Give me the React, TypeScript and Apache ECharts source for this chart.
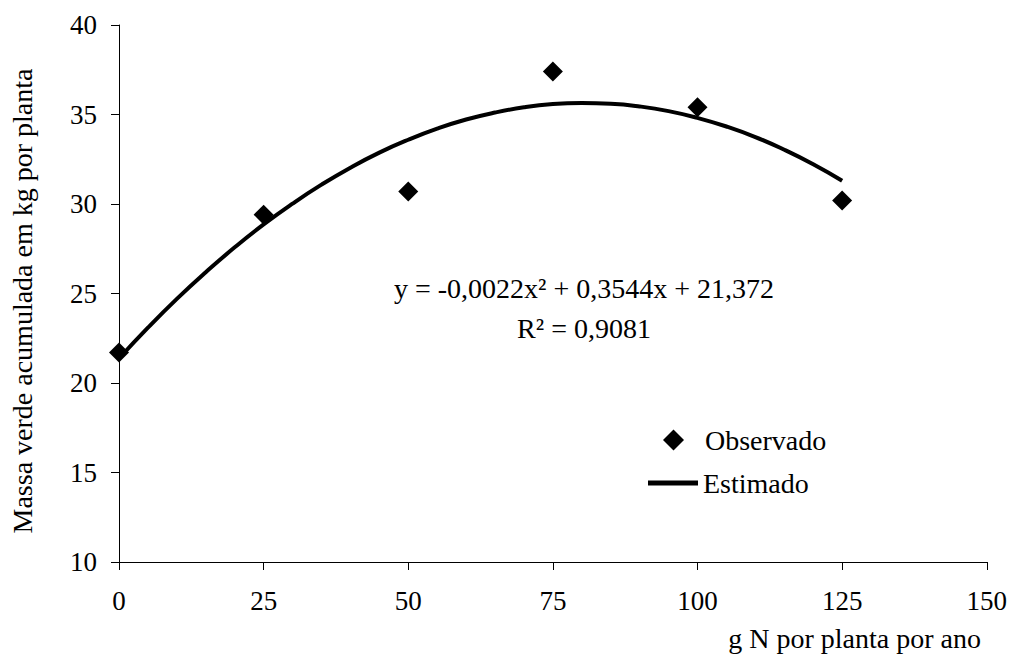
import React, { useEffect, useRef } from "react";
import * as echarts from "echarts";

// Observed data (g N por planta por ano -> massa verde, kg por planta)
const doses = [0, 25, 50, 75, 100, 125];
const observed = [21.7, 29.4, 30.7, 37.4, 35.4, 30.2];

// Fitted curve (Estimado), every 5 g N
const curveX = [0, 5, 10, 15, 20, 25, 30, 35, 40, 45, 50, 55, 60, 65, 70, 75, 80, 85, 90, 95, 100, 105, 110, 115, 120, 125];
const curveY = [21.37, 23.09, 24.7, 26.19, 27.58, 28.86, 30.02, 31.08, 32.03, 32.87, 33.59, 34.21, 34.72, 35.11, 35.4, 35.58, 35.64, 35.6, 35.45, 35.19, 34.81, 34.33, 33.74, 33.03, 32.22, 31.3];

const equationText = "y = -0,0022x² + 0,3544x + 21,372";
const r2Text = "R² = 0,9081";
const yAxisTitle = "Massa verde acumulada em kg por planta";
const xAxisTitle = "g N por planta por ano";
const legendObserved = "Observado";
const legendEstimated = "Estimado";

const FONT = "Liberation Serif";

function buildOption() {
  const scatterData = doses.map((d, i) => [d, observed[i]]);
  const lineData = curveX.map((d, i) => [d, curveY[i]]);
  return {
    animation: false,
    backgroundColor: "#ffffff",
    grid: { left: 119, right: 23, top: 25, bottom: 94 },
    xAxis: {
      type: "value",
      min: 0,
      max: 150,
      interval: 25,
      axisLine: { show: true, onZero: false, lineStyle: { color: "#000", width: 1 } },
      axisTick: { show: true, length: 8, inside: false, lineStyle: { color: "#000" } },
      splitLine: { show: false },
      axisLabel: { fontFamily: FONT, fontSize: 27, color: "#000", margin: 25 },
    },
    yAxis: {
      type: "value",
      min: 10,
      max: 40,
      interval: 5,
      axisLine: { show: true, onZero: false, lineStyle: { color: "#000", width: 1 } },
      axisTick: { show: true, length: 8, inside: false, lineStyle: { color: "#000" } },
      splitLine: { show: false },
      axisLabel: { fontFamily: FONT, fontSize: 27, color: "#000", margin: 22 },
    },
    legend: [
      {
        data: [{ name: legendObserved, icon: "diamond" }],
        left: 658,
        top: 421,
        orient: "vertical",
        itemWidth: 21,
        itemHeight: 21,
        itemStyle: { color: "#000", opacity: 1 },
        textStyle: { fontFamily: FONT, fontSize: 28, color: "#000", padding: [0, 0, 0, 16] },
        selectedMode: false,
      },
      {
        data: [{ name: legendEstimated, icon: "rect" }],
        left: 643,
        top: 464,
        orient: "vertical",
        itemWidth: 50,
        itemHeight: 5,
        itemStyle: { color: "#000", opacity: 1 },
        textStyle: { fontFamily: FONT, fontSize: 28, color: "#000" },
        selectedMode: false,
      },
    ],
    series: [
      {
        name: legendEstimated,
        type: "line",
        data: lineData,
        smooth: true,
        symbol: "none",
        showSymbol: false,
        lineStyle: { color: "#000", width: 4 },
        itemStyle: { color: "#000" },
        z: 2,
      },
      {
        name: legendObserved,
        type: "scatter",
        data: scatterData,
        symbol: "diamond",
        symbolSize: 20,
        itemStyle: { color: "#000", opacity: 1 },
        z: 3,
      },
    ],
    graphic: [
      {
        type: "text",
        x: 584,
        y: 288,
        style: { text: equationText, fontFamily: FONT, fontSize: 28, fill: "#000", align: "center", verticalAlign: "middle" },
      },
      {
        type: "text",
        x: 584,
        y: 328,
        style: { text: r2Text, fontFamily: FONT, fontSize: 28, fill: "#000", align: "center", verticalAlign: "middle" },
      },
      {
        type: "text",
        x: 981,
        y: 638,
        style: { text: xAxisTitle, fontFamily: FONT, fontSize: 28, fill: "#000", align: "right", verticalAlign: "middle" },
      },
      {
        type: "text",
        x: 22,
        y: 301,
        rotation: Math.PI / 2,
        style: { text: yAxisTitle, fontFamily: FONT, fontSize: 28, fill: "#000", align: "center", verticalAlign: "middle" },
      },
    ],
  };
}

export default function App() {
  const ref = useRef<HTMLDivElement>(null);

  useEffect(() => {
    if (!ref.current) return;
    const chart = echarts.init(ref.current, undefined, { renderer: "svg" });
    chart.setOption(buildOption());

    let alive = true;
    const redraw = () => {
      if (!alive) return;
      chart.clear();
      chart.setOption(buildOption(), true);
    };
    const fontSet: any = (document as any).fonts;
    if (fontSet && fontSet.load) {
      fontSet.load('28px "Liberation Serif"').then(redraw).catch(() => {});
    }
    const timer = setTimeout(redraw, 150);

    return () => {
      alive = false;
      clearTimeout(timer);
      chart.dispose();
    };
  }, []);

  return (
    <>
      <style>{`#chart-root svg text { font-family: "Liberation Serif", serif !important; }`}</style>
      <div
        id="chart-root"
        ref={ref}
        style={{ position: "fixed", left: 0, top: 0, width: 1010, height: 656, background: "#fff" }}
      />
    </>
  );
}
